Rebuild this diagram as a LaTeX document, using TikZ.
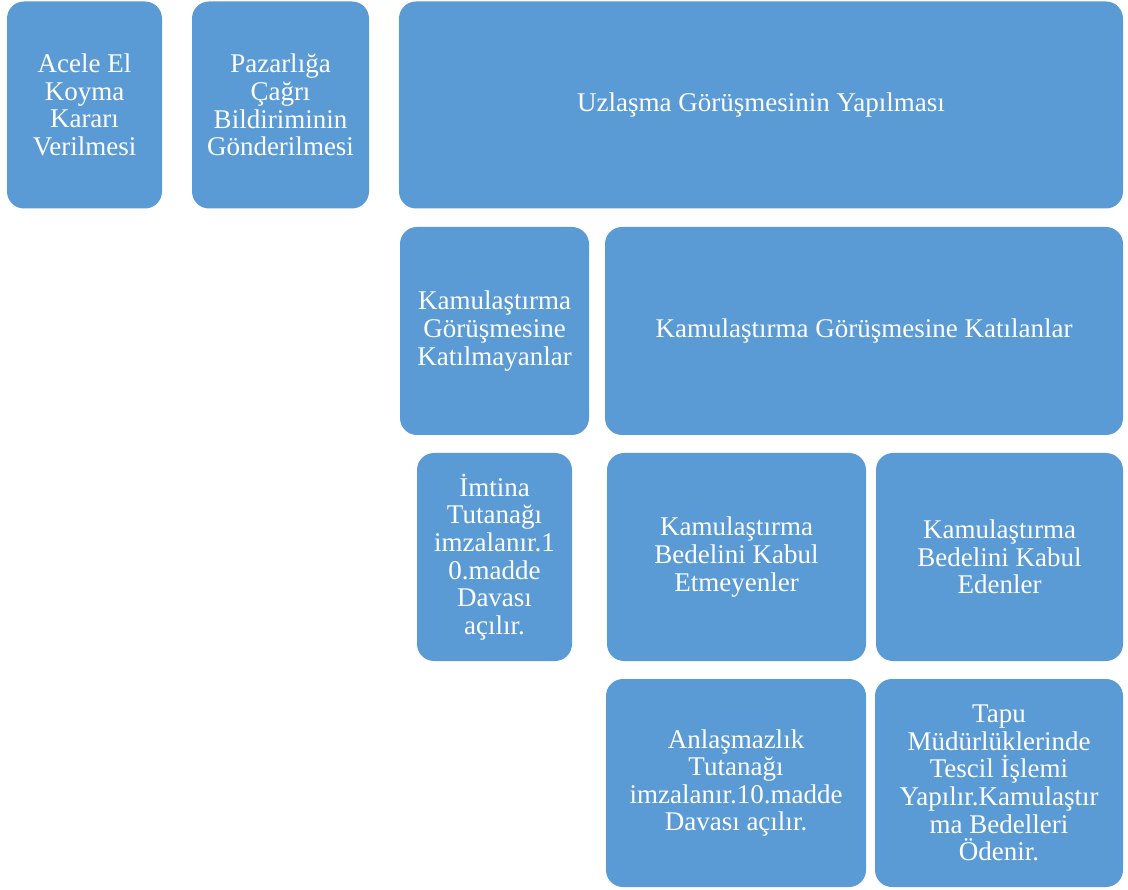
\documentclass[tikz,border=0pt]{standalone}
\usepackage{fontspec}
\setmainfont{Liberation Serif}
\definecolor{boxblue}{HTML}{5B9BD5}
\begin{document}
\begin{tikzpicture}[x=1pt,y=-1pt,
  box/.style={fill=boxblue, draw=none, rounded corners=17pt, text=white,
    align=center, inner sep=0pt, font=\fontsize{27}{27.6}\selectfont}]
\useasboundingbox (0,0) rectangle (1128,890);
% first row
\node[box, minimum width=155pt, minimum height=207pt] (b1) at (84.5,105)
  {Acele El\\Koyma\\Kararı\\Verilmesi};
\node[box, minimum width=177pt, minimum height=207pt] (b2) at (280.5,105)
  {Pazarlığa\\Çağrı\\Bildiriminin\\Gönderilmesi};
\node[box, minimum width=724pt, minimum height=207pt] (b3) at (761,105)
  {Uzlaşma Görüşmesinin Yapılması};
% second row
\node[box, minimum width=189pt, minimum height=208pt] (b4) at (494.5,331)
  {Kamulaştırma\\Görüşmesine\\Katılmayanlar};
\node[box, minimum width=518pt, minimum height=208pt] (b5) at (864,331)
  {Kamulaştırma Görüşmesine Katılanlar};
% third row
\node[box, minimum width=155pt, minimum height=208pt] (b6) at (494.5,557)
  {İmtina\\Tutanağı\\imzalanır.1\\0.madde\\Davası\\açılır.};
\node[box, minimum width=259pt, minimum height=208pt] (b7) at (736.5,557)
  {Kamulaştırma\\Bedelini Kabul\\Etmeyenler};
\node[box, minimum width=247pt, minimum height=208pt] (b8) at (999.5,557)
  {Kamulaştırma\\Bedelini Kabul\\Edenler};
% fourth row
\node[box, minimum width=260pt, minimum height=208pt] (b9) at (736,783)
  {Anlaşmazlık\\Tutanağı\\imzalanır.10.madde\\Davası açılır.};
\node[box, minimum width=248pt, minimum height=208pt] (b10) at (999,783)
  {Tapu\\Müdürlüklerinde\\Tescil İşlemi\\Yapılır.Kamulaştır\\ma Bedelleri\\Ödenir.};
\end{tikzpicture}
\end{document}
